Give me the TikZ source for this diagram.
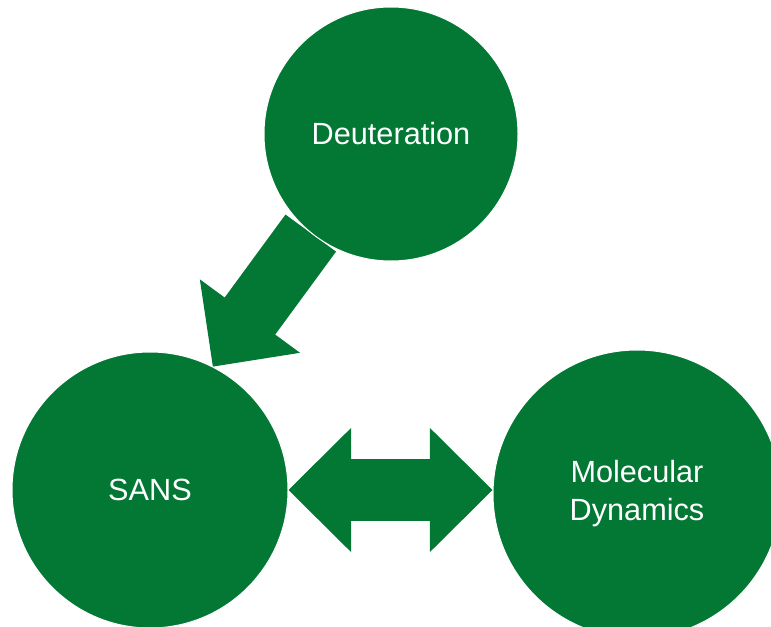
\documentclass[tikz,border=0pt]{standalone}
\usepackage{fontspec}
\setmainfont{Liberation Sans}
\usetikzlibrary{arrows.meta,backgrounds}

\definecolor{leafgreen}{RGB}{2,120,52}

\tikzset{
	bubble/.style={circle, fill=leafgreen, draw=white, line width=0.75pt, inner sep=0pt,
		text=white, align=center, font=\fontsize{23}{28.5}\selectfont},
	fatarrow/.style={leafgreen, line width=47pt},
	fathead/.tip={Triangle[width=93pt, length=47pt, line width=1pt]}
}

\begin{document}
\begin{tikzpicture}[x=0.75pt, y=0.75pt]

			% Fix page size.
			\useasboundingbox (0,0) rectangle (771,626);
			\clip (0,0) rectangle (771,626);

			% Draw circles.
			\node[bubble, minimum size=190.5pt] (deut) at (391,492) {Deuteration};
			\node[bubble, minimum size=207pt] (sans) at (150,136) {SANS};
			\node[bubble, minimum size=216pt] (md) at (637,132) {Molecular\\Dynamics};

			% Draw arrows behind circles.
			\begin{scope}[on background layer]
				\draw[fatarrow, -fathead] (deut.231.6) -- (sans.63.4);
				\draw[fatarrow, fathead-fathead] (sans.east) -- (md.west |- sans.east);
			\end{scope}

\end{tikzpicture}
\end{document}
